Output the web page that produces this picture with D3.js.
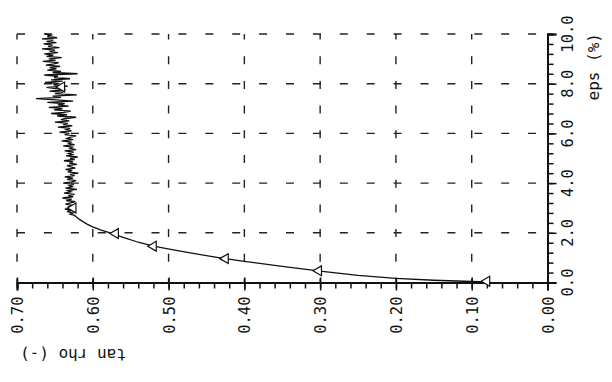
<!DOCTYPE html>
<html>
<head>
<meta charset="utf-8">
<script src="https://cdn.jsdelivr.net/npm/d3@7"></script>
<style>
  html, body { margin: 0; padding: 0; background: #ffffff; }
  svg { display: block; }
  text { font-family: "DejaVu Sans Mono", "Liberation Mono", monospace; fill: #111; }
</style>
</head>
<body>
<svg id="chart" width="612" height="382"></svg>
<script>
// ---- data ----
const tanRhoTicks = [0.70, 0.60, 0.50, 0.40, 0.30, 0.20, 0.10, 0.00];
const tanRhoTickLabels = ["0.70", "0.60", "0.50", "0.40", "0.30", "0.20", "0.10", "0.00"];
const epsTicks = [0, 2, 4, 6, 8, 10];
const epsTickLabels = ["0.0", "2.0", "4.0", "6.0", "8.0", "10.0"];

// measured curve: strain eps (%) and mobilised friction tan rho (-)
const strain = [
  0.02, 0.04, 0.09, 0.17, 0.29, 0.46, 0.65, 0.85, 0.98, 1.13, 1.29, 1.46, 1.62, 1.82, 1.98,
  2.12, 2.24, 2.34, 2.45, 2.55, 2.65,
  2.70, 2.75, 2.80, 2.85, 2.90, 2.95, 3.00, 3.05, 3.10, 3.15,
  3.20, 3.25, 3.30, 3.35, 3.40, 3.45, 3.50, 3.55, 3.60, 3.65,
  3.70, 3.75, 3.80, 3.85, 3.90, 3.95, 4.00, 4.05, 4.10, 4.15,
  4.20, 4.25, 4.30, 4.35, 4.40, 4.45, 4.50, 4.55, 4.60, 4.65,
  4.70, 4.75, 4.80, 4.85, 4.90, 4.95, 5.00, 5.05, 5.10, 5.15,
  5.20, 5.25, 5.30, 5.35, 5.40, 5.45, 5.50, 5.55, 5.60, 5.65,
  5.70, 5.75, 5.80, 5.85, 5.90, 5.95, 6.00, 6.05, 6.10, 6.15,
  6.20, 6.25, 6.30, 6.35, 6.40, 6.45, 6.50, 6.55, 6.60, 6.65,
  6.70, 6.75, 6.80, 6.85, 6.90, 6.95, 7.00, 7.05, 7.10, 7.15,
  7.20, 7.25, 7.30, 7.35, 7.40, 7.45, 7.50, 7.55, 7.60, 7.65,
  7.70, 7.75, 7.80, 7.85, 7.90, 7.95, 8.00, 8.05, 8.10, 8.15,
  8.20, 8.25, 8.30, 8.35, 8.40, 8.45, 8.50, 8.55, 8.60, 8.65,
  8.70, 8.75, 8.80, 8.85, 8.90, 8.95, 9.00, 9.05, 9.10, 9.15,
  9.20, 9.25, 9.30, 9.35, 9.40, 9.45, 9.50, 9.55, 9.60, 9.65,
  9.70, 9.75, 9.80, 9.85, 9.90, 9.95, 10.00
];
const tanRho = [
  0.080, 0.100, 0.150, 0.200, 0.250, 0.300, 0.350, 0.400, 0.430, 0.460, 0.490, 0.520, 0.540, 0.560, 0.575,
  0.590, 0.600, 0.607, 0.613, 0.618, 0.622,
  0.624, 0.630, 0.626, 0.634, 0.628, 0.637, 0.625, 0.631, 0.627, 0.636,
  0.629, 0.623, 0.635, 0.628, 0.640, 0.626, 0.632, 0.624, 0.638, 0.629,
  0.633, 0.621, 0.636, 0.627, 0.631, 0.625, 0.639, 0.628, 0.622, 0.634,
  0.626, 0.637, 0.624, 0.630, 0.619, 0.633, 0.627, 0.636, 0.623, 0.629,
  0.634, 0.621, 0.631, 0.626, 0.638, 0.624, 0.630, 0.620, 0.635, 0.627,
  0.632, 0.625, 0.637, 0.622, 0.630, 0.627, 0.639, 0.624, 0.633, 0.628,
  0.641, 0.626, 0.634, 0.629, 0.622, 0.637, 0.631, 0.644, 0.628, 0.635,
  0.630, 0.646, 0.627, 0.639, 0.633, 0.650, 0.631, 0.642, 0.636, 0.622,
  0.647, 0.634, 0.655, 0.638, 0.629, 0.651, 0.640, 0.658, 0.632, 0.646,
  0.637, 0.660, 0.626, 0.648, 0.675, 0.642, 0.653, 0.621, 0.650, 0.639,
  0.657, 0.636, 0.649, 0.661, 0.633, 0.652, 0.644, 0.663, 0.640, 0.655,
  0.630, 0.651, 0.646, 0.664, 0.620, 0.653, 0.642, 0.660, 0.648, 0.657,
  0.643, 0.662, 0.651, 0.645, 0.666, 0.649, 0.658, 0.641, 0.661, 0.652,
  0.664, 0.646, 0.657, 0.650, 0.667, 0.644, 0.659, 0.653, 0.665, 0.648,
  0.661, 0.652, 0.667, 0.647, 0.660, 0.655, 0.663
];

// open triangle markers on the curve
const markerStrain = [0.05, 0.47, 0.96, 1.46, 1.97, 3.00, 7.87];
const markerTanRho = [0.080, 0.302, 0.425, 0.520, 0.570, 0.626, 0.641];

// ---- drawing ----
const svg = d3.select("#chart");
const x = d3.scaleLinear().domain([0.70, 0.00]).range([17, 547.5]);
const y = d3.scaleLinear().domain([0, 10]).range([282.5, 34]);

// dashed grid
const grid = svg.append("g").attr("stroke", "#222").attr("stroke-width", 1.4).attr("fill", "none");
grid.selectAll("line.h").data(epsTicks.filter(v => v > 0)).join("line")
  .attr("class", "h")
  .attr("x1", x(0.70)).attr("x2", x(0.00))
  .attr("y1", d => y(d)).attr("y2", d => y(d))
  .attr("stroke-dasharray", "8,18.9");
grid.selectAll("line.v").data(tanRhoTicks.filter(v => v > 0)).join("line")
  .attr("class", "v")
  .attr("x1", d => x(d)).attr("x2", d => x(d))
  .attr("y1", y(0)).attr("y2", y(10))
  .attr("stroke-dasharray", "8,16.7")
  .attr("stroke-dashoffset", 4);

// bottom axis (tan rho)
const minorX = d3.range(0, 36).map(i => i * 0.02);
const gx = svg.append("g").attr("transform", `translate(0,${y(0)})`);
gx.call(d3.axisBottom(x).tickValues(minorX).tickSize(6).tickFormat(""));
const gxMajor = svg.append("g").attr("transform", `translate(0,${y(0)})`);
gxMajor.call(d3.axisBottom(x).tickValues(tanRhoTicks).tickSize(8).tickFormat(""));
gxMajor.selectAll(".tick line").attr("y1", -5);
[gx, gxMajor].forEach(g => {
  g.selectAll("path, line").attr("stroke", "#111").attr("stroke-width", 1.5);
  g.select(".domain").attr("stroke-width", 1.9);
});

// right axis (eps)
const minorY = d3.range(0, 26).map(i => i * 0.4);
const gy = svg.append("g").attr("transform", `translate(${x(0)},0)`);
gy.call(d3.axisRight(y).tickValues(minorY).tickSize(6).tickFormat(""));
const gyMajor = svg.append("g").attr("transform", `translate(${x(0)},0)`);
gyMajor.call(d3.axisRight(y).tickValues(epsTicks).tickSize(9).tickFormat(""));
[gy, gyMajor].forEach(g => {
  g.selectAll("path, line").attr("stroke", "#111").attr("stroke-width", 1.5);
  g.select(".domain").attr("stroke-width", 1.9);
});

// tick labels (rotated, as on the plotter sheet)
svg.append("g").selectAll("text").data(tanRhoTicks).join("text")
  .attr("transform", d => `translate(${x(d) + 6},${y(0) + 14}) rotate(-90)`)
  .attr("text-anchor", "end")
  .attr("font-size", 15.5)
  .text((d, i) => tanRhoTickLabels[i]);

svg.append("g").selectAll("text").data(epsTicks).join("text")
  .attr("transform", d => `translate(${x(0) + 25},${y(d)}) rotate(-90)`)
  .attr("text-anchor", "middle")
  .attr("font-size", 15.5)
  .text((d, i) => epsTickLabels[i]);

// axis titles
svg.append("text")
  .attr("transform", `translate(126,349) rotate(180)`)
  .attr("text-anchor", "start")
  .attr("font-size", 16)
  .text("tan rho (-)");
svg.append("text")
  .attr("transform", `translate(599,33) rotate(-90)`)
  .attr("text-anchor", "end")
  .attr("font-size", 16)
  .text("eps (%)");

// curve
const pts = strain.map((e, i) => [tanRho[i], e]);
svg.append("path")
  .datum(pts)
  .attr("fill", "none")
  .attr("stroke", "#111")
  .attr("stroke-width", 1.3)
  .attr("d", d3.line().x(d => x(d[0])).y(d => y(d[1])));

// markers
const tri = d3.symbol().type(d3.symbolTriangle).size(42);
svg.append("g").selectAll("path").data(markerStrain).join("path")
  .attr("transform", (d, i) => `translate(${x(markerTanRho[i])},${y(d)}) rotate(-90)`)
  .attr("d", tri)
  .attr("fill", "#fff")
  .attr("stroke", "#111")
  .attr("stroke-width", 1.2);
</script>
</body>
</html>
